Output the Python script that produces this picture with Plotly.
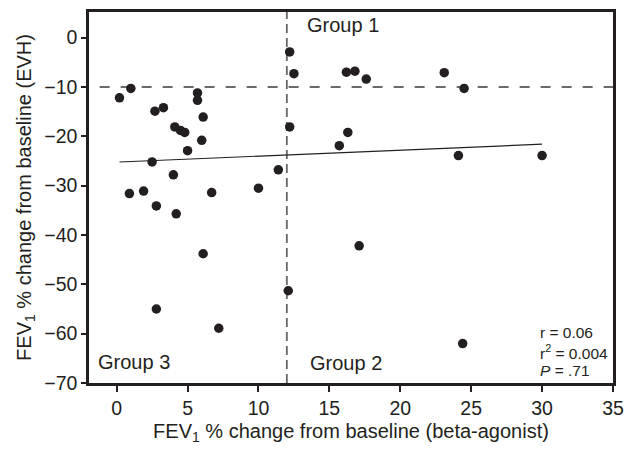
import plotly.graph_objects as go

beta_agonist = [1.0, 0.2, 2.7, 3.3, 5.7, 5.7, 6.1, 4.1, 4.5, 4.8, 6.0, 5.0, 2.5, 4.0,
                0.9, 1.9, 6.7, 10.0, 2.8, 4.2, 6.1, 2.8, 7.2,
                12.2, 12.5, 16.2, 16.8, 17.6, 12.2, 16.3, 15.7, 11.4, 17.1, 12.1,
                23.1, 24.5, 24.1, 30.0, 24.4]
evh = [-10.3, -12.2, -14.9, -14.2, -11.2, -12.7, -16.1, -18.1, -18.8, -19.2, -20.8, -22.9, -25.2, -27.8,
       -31.6, -31.1, -31.4, -30.5, -34.1, -35.7, -43.8, -55.0, -58.9,
       -2.9, -7.3, -7.0, -6.8, -8.4, -18.1, -19.2, -21.9, -26.8, -42.2, -51.3,
       -7.1, -10.3, -23.9, -23.9, -62.0]

fit_x = [0.2, 30.0]
fit_y = [-25.2, -21.6]

x_threshold = 12
y_threshold = -10

x_ticks = [0, 5, 10, 15, 20, 25, 30, 35]
y_ticks = [0, -10, -20, -30, -40, -50, -60, -70]

group_labels = ["Group 1", "Group 2", "Group 3"]
stats_lines = ["r = 0.06", "r<sup>2</sup> = 0.004", "<i>P</i> = .71"]

ink = "#231f20"
font = "Liberation Sans, Arial, sans-serif"

fig = go.Figure()

fig.add_trace(go.Scatter(x=fit_x, y=fit_y, mode="lines",
                         line=dict(color=ink, width=1.2), showlegend=False, hoverinfo="skip"))
fig.add_trace(go.Scatter(x=beta_agonist, y=evh, mode="markers",
                         marker=dict(color=ink, size=9.5), showlegend=False))

# threshold lines
fig.add_shape(type="line", x0=-1.2, x1=35, y0=y_threshold, y1=y_threshold,
              line=dict(color="#3a3a3a", width=1.5, dash="10px,11px"), layer="below")
fig.add_shape(type="line", x0=x_threshold, x1=x_threshold, y0=-70, y1=5.2,
              line=dict(color="#666666", width=1.8, dash="9px,5px"), layer="below")

# group labels
fig.add_annotation(x=15.95, y=2.5, text=group_labels[0], showarrow=False,
                   font=dict(size=20, color=ink, family=font))
fig.add_annotation(x=16.2, y=-65.9, text=group_labels[1], showarrow=False,
                   font=dict(size=20, color=ink, family=font))
fig.add_annotation(x=-1.45, y=-65.7, text=group_labels[2], showarrow=False, xanchor="left",
                   font=dict(size=20, color=ink, family=font))

# stats
for txt, yy in zip(stats_lines, [-59.8, -63.7, -67.5]):
    fig.add_annotation(x=29.7, y=yy, text=txt, showarrow=False, xanchor="left",
                       font=dict(size=15.5, color=ink, family=font))

fig.update_xaxes(range=[-1.95, 35], tickvals=x_ticks, ticks="outside", ticklen=6,
                 tickwidth=1.5, tickcolor=ink, showline=True, linecolor=ink, linewidth=2.5,
                 mirror=True, showgrid=False, zeroline=False, automargin=False,
                 tickfont=dict(size=19.5, color=ink, family=font),
                 title=dict(text="FEV<sub>1</sub> % change from baseline (beta-agonist)",
                            font=dict(size=20, color=ink, family=font), standoff=6))
fig.update_yaxes(range=[-70, 5.2], tickvals=y_ticks, ticks="outside", ticklen=5,
                 tickwidth=1.5, tickcolor=ink, showline=True, linecolor=ink, linewidth=2.5,
                 mirror=True, showgrid=False, zeroline=False, automargin=False,
                 tickfont=dict(size=19.5, color=ink, family=font),
                 title=dict(text="FEV<sub>1</sub> % change from baseline (EVH)",
                            font=dict(size=20, color=ink, family=font), standoff=8))

fig.update_layout(width=627, height=455, margin=dict(l=89, r=14, t=12, b=72, autoexpand=False),
                  plot_bgcolor="white", paper_bgcolor="white",
                  font=dict(family=font, color=ink))

fig.write_html("out.html", config={"displayModeBar": False},
               post_script="document.body.style.margin='0';document.body.style.overflow='hidden';")
